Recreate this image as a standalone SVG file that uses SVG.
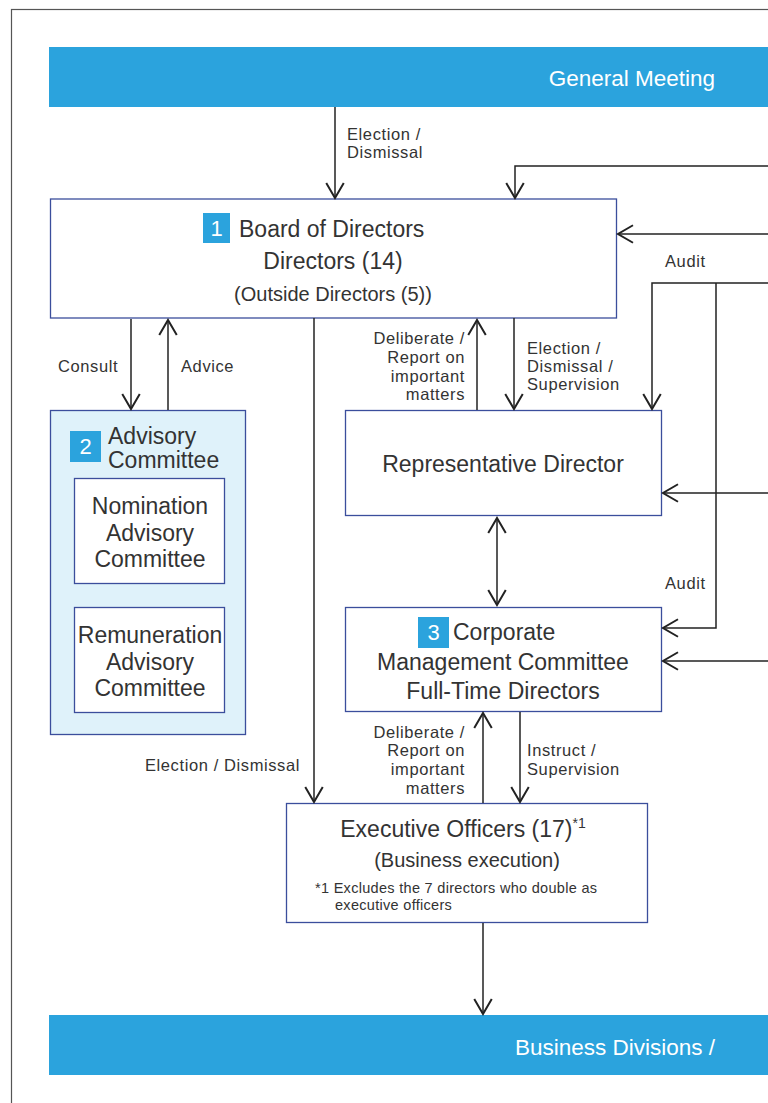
<svg xmlns="http://www.w3.org/2000/svg" width="768" height="1103" viewBox="0 0 768 1103">
<defs>
<marker id="ah" markerUnits="userSpaceOnUse" markerWidth="20" markerHeight="20" refX="0" refY="0" viewBox="-14 -8 16 16" orient="auto-start-reverse" overflow="visible">
<path d="M-12,-7 L0,0 L-12,7" fill="none" stroke="#222" stroke-width="1.6"/>
</marker>
<style>
text{font-family:"Liberation Sans",Arial,sans-serif;fill:#333}
.bar{fill:#2ba3dd}
.bartxt{fill:#fff;font-size:22.5px}
.box{fill:#fff;stroke:#3b4e9c;stroke-width:1.3}
.adv{fill:#dff2fa;stroke:#3b4e9c;stroke-width:1.3}
.badge{fill:#2ba3dd}
.bnum{fill:#fff;font-size:22px;text-anchor:middle}
.t22{font-size:23px}
.t19{font-size:20px}
.lab{font-size:16.5px;letter-spacing:0.6px}
.note{font-size:14.5px;letter-spacing:0.3px}
.c{text-anchor:middle}
.r{text-anchor:end}
.ln{fill:none;stroke:#222;stroke-width:1.5}
.arr{marker-end:url(#ah)}
.arr2{marker-start:url(#ah);marker-end:url(#ah)}
</style>
</defs>
<rect x="11.5" y="9.5" width="800" height="1120" fill="none" stroke="#555" stroke-width="1.2"/>

<g id="general-meeting">
<rect class="bar" x="49" y="47" width="719" height="60"/>
<text class="bartxt r" x="715" y="86">General Meeting</text>
</g>

<g id="board">
<rect class="box" x="50.5" y="199" width="566" height="119"/>
<rect class="badge" x="203" y="213" width="27" height="30"/>
<text class="bnum" x="216.5" y="236">1</text>
<text class="t22" x="239" y="237">Board of Directors</text>
<text class="t22 c" x="333" y="269">Directors (14)</text>
<text class="t19 c" x="333" y="301">(Outside Directors (5))</text>
</g>

<g id="advisory">
<rect class="adv" x="50.5" y="410.5" width="195" height="324"/>
<rect class="badge" x="70" y="431" width="31" height="31"/>
<text class="bnum" x="85.5" y="454">2</text>
<text class="t22" x="108" y="444">Advisory</text>
<text class="t22" x="108" y="468">Committee</text>
</g>

<g id="nomination">
<rect class="box" x="74.5" y="478.5" width="150" height="105"/>
<text class="t22 c" x="150" y="514">Nomination</text>
<text class="t22 c" x="150" y="541">Advisory</text>
<text class="t22 c" x="150" y="567">Committee</text>
</g>

<g id="remuneration">
<rect class="box" x="74.5" y="607.5" width="150" height="105"/>
<text class="t22 c" x="150" y="643">Remuneration</text>
<text class="t22 c" x="150" y="670">Advisory</text>
<text class="t22 c" x="150" y="696">Committee</text>
</g>

<g id="rep-director">
<rect class="box" x="345.5" y="410.5" width="316" height="105"/>
<text class="t22 c" x="503" y="472">Representative Director</text>
</g>

<g id="cmc">
<rect class="box" x="345.5" y="607.5" width="316" height="104"/>
<rect class="badge" x="418" y="617" width="31" height="31"/>
<text class="bnum" x="433.5" y="640">3</text>
<text class="t22" x="453" y="640">Corporate</text>
<text class="t22 c" x="503" y="670">Management Committee</text>
<text class="t22 c" x="503" y="699">Full-Time Directors</text>
</g>

<g id="exec-officers">
<rect class="box" x="286.5" y="803.5" width="361" height="119"/>
<text class="t22 c" x="463" y="837">Executive Officers (17)<tspan font-size="14" dy="-9">*1</tspan></text>
<text class="t19 c" x="467" y="867">(Business execution)</text>
<text class="note" x="315" y="893">*1 Excludes the 7 directors who double as</text>
<text class="note" x="335" y="910">executive officers</text>
</g>

<g id="business-divisions">
<rect class="bar" x="49" y="1015" width="719" height="60"/>
<text class="bartxt r" x="715" y="1055">Business Divisions /</text>
</g>

<g id="connectors">
<line class="ln arr" x1="335" y1="107" x2="335" y2="198"/>
<polyline class="ln arr" points="768,166 515,166 515,198"/>
<line class="ln arr" x1="768" y1="234" x2="618" y2="234"/>
<polyline class="ln arr" points="768,283 652,283 652,409"/>
<polyline class="ln arr" points="716,283 716,628 663,628"/>
<line class="ln arr" x1="768" y1="493" x2="663" y2="493"/>
<line class="ln arr" x1="768" y1="661" x2="663" y2="661"/>
<line class="ln arr" x1="131" y1="319" x2="131" y2="409"/>
<line class="ln arr" x1="168" y1="410" x2="168" y2="320"/>
<line class="ln arr" x1="314" y1="318" x2="314" y2="802"/>
<line class="ln arr" x1="477" y1="410" x2="477" y2="320"/>
<line class="ln arr" x1="514" y1="318" x2="514" y2="409"/>
<line class="ln arr2" x1="497" y1="518" x2="497" y2="605"/>
<line class="ln arr" x1="483" y1="803" x2="483" y2="713"/>
<line class="ln arr" x1="520" y1="712" x2="520" y2="802"/>
<line class="ln arr" x1="483" y1="923" x2="483" y2="1014"/>
</g>

<g id="labels">
<text class="lab" x="347" y="140">Election /</text>
<text class="lab" x="347" y="158">Dismissal</text>
<text class="lab" x="665" y="267">Audit</text>
<text class="lab" x="665" y="589">Audit</text>
<text class="lab" x="58" y="372">Consult</text>
<text class="lab" x="181" y="372">Advice</text>
<text class="lab r" x="465" y="344">Deliberate /</text>
<text class="lab r" x="465" y="363">Report on</text>
<text class="lab r" x="465" y="382">important</text>
<text class="lab r" x="465" y="400">matters</text>
<text class="lab" x="527" y="354">Election /</text>
<text class="lab" x="527" y="372">Dismissal /</text>
<text class="lab" x="527" y="390">Supervision</text>
<text class="lab r" x="300" y="771">Election / Dismissal</text>
<text class="lab r" x="465" y="738">Deliberate /</text>
<text class="lab r" x="465" y="756">Report on</text>
<text class="lab r" x="465" y="775">important</text>
<text class="lab r" x="465" y="794">matters</text>
<text class="lab" x="527" y="756">Instruct /</text>
<text class="lab" x="527" y="775">Supervision</text>
</g>
</svg>
